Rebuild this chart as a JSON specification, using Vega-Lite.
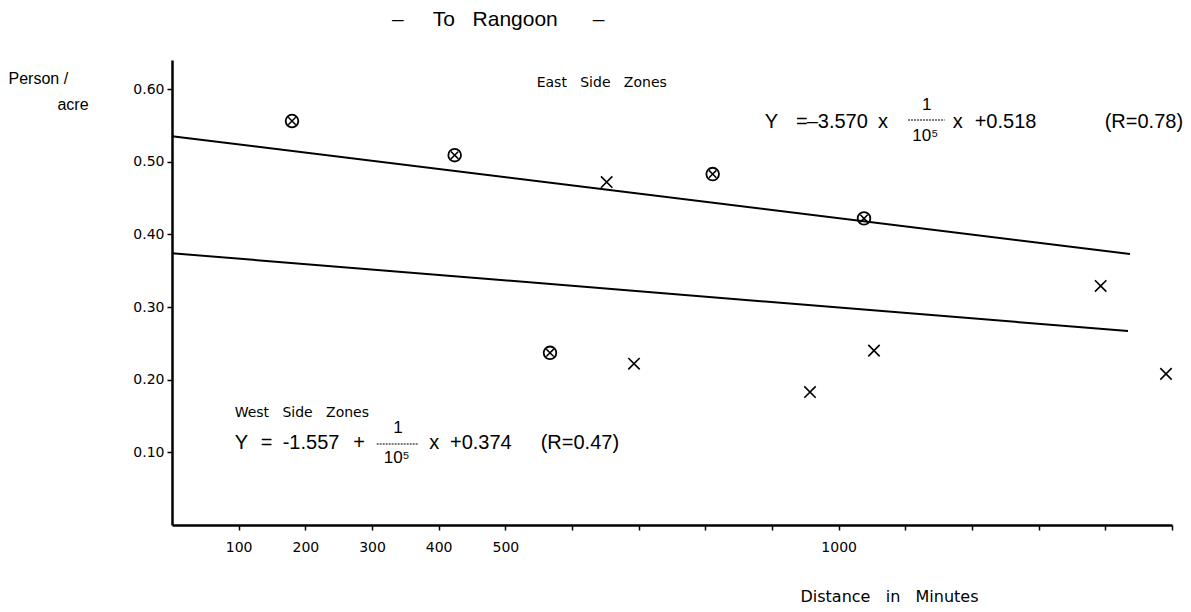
{
  "$schema": "https://vega.github.io/schema/vega-lite/v6.json",
  "width": 1000,
  "height": 465,
  "autosize": {"type": "none"},
  "padding": {"left": 172, "top": 60, "right": 19, "bottom": 87},
  "background": "white",
  "title": {"text": "–\u00a0\u00a0\u00a0\u00a0\u00a0To\u00a0\u00a0\u00a0Rangoon\u00a0\u00a0\u00a0\u00a0\u00a0\u00a0–", "anchor": "start", "dx": 384, "offset": 30, "fontSize": 21, "font": "Liberation Sans", "fontWeight": "normal", "color": "black"},
  "config": {
    "view": {"stroke": null},
    "axis": {"grid": false, "domainColor": "black", "tickColor": "black", "labelColor": "black", "titleColor": "black", "labelFont": "DejaVu Sans", "titleFont": "DejaVu Sans", "titleFontWeight": "normal"}
  },
  "datasets": {
    "points": [
      {"distance": 180, "density": 0.556, "marker": "circled"},
      {"distance": 424, "density": 0.509, "marker": "circled"},
      {"distance": 811, "density": 0.483, "marker": "circled"},
      {"distance": 1038, "density": 0.422, "marker": "circled"},
      {"distance": 567, "density": 0.237, "marker": "circled"},
      {"distance": 652, "density": 0.472, "marker": "cross"},
      {"distance": 693, "density": 0.222, "marker": "cross"},
      {"distance": 957, "density": 0.183, "marker": "cross"},
      {"distance": 1053, "density": 0.240, "marker": "cross"},
      {"distance": 1393, "density": 0.329, "marker": "cross"},
      {"distance": 1491, "density": 0.208, "marker": "cross"}
    ],
    "fits": [
      {"zone": "East", "distance": 0, "density": 0.535},
      {"zone": "East", "distance": 1437, "density": 0.373},
      {"zone": "West", "distance": 0, "density": 0.374},
      {"zone": "West", "distance": 1434, "density": 0.267}
    ],
    "equations": [
      {"text": "Y", "distance": 889, "density": 0.5547},
      {"text": "=", "distance": 936, "density": 0.5547},
      {"text": "–3.570", "distance": 952, "density": 0.5547},
      {"text": "x", "distance": 1059, "density": 0.5547},
      {"text": "x", "distance": 1171, "density": 0.5547},
      {"text": "+0.518", "distance": 1204, "density": 0.5547},
      {"text": "(R=0.78)", "distance": 1399, "density": 0.5547},
      {"text": "Y", "distance": 94, "density": 0.1129},
      {"text": "=", "distance": 133, "density": 0.1129},
      {"text": "-1.557", "distance": 166, "density": 0.1129},
      {"text": "+", "distance": 272, "density": 0.1129},
      {"text": "x", "distance": 386, "density": 0.1129},
      {"text": "+0.374", "distance": 417, "density": 0.1129},
      {"text": "(R=0.47)", "distance": 553, "density": 0.1129}
    ],
    "fractions": [
      {"text": "1", "distance": 1132, "density": 0.578},
      {"text": "10⁵", "distance": 1130, "density": 0.5354},
      {"text": "1", "distance": 339, "density": 0.1335},
      {"text": "10⁵", "distance": 337, "density": 0.0922}
    ],
    "bars": [
      {"distance": 1104, "distance2": 1159, "density": 0.5574},
      {"distance": 307, "distance2": 370, "density": 0.1115}
    ],
    "labels": [
      {"text": "East\u00a0\u00a0\u00a0Side\u00a0\u00a0\u00a0Zones", "distance": 547, "density": 0.608},
      {"text": "West\u00a0\u00a0\u00a0Side\u00a0\u00a0\u00a0Zones", "distance": 94, "density": 0.154}
    ]
  },
  "layer": [
    {
      "data": {"name": "fits"},
      "mark": {"type": "line", "color": "black", "strokeWidth": 2},
      "encoding": {
        "x": {"field": "distance", "type": "quantitative", "scale": {"domain": [0, 1500], "nice": false},
          "axis": {"values": [100, 200, 300, 400, 500, 600, 700, 800, 900, 1000, 1100, 1200, 1300, 1400, 1500],
            "labelExpr": "indexof([100,200,300,400,500,1000], datum.value) >= 0 ? datum.label : ''",
            "format": "d", "tickSize": 5, "tickWidth": 1.5, "domainWidth": 2.5, "labelPadding": 10, "labelFontSize": 14,
            "title": "Distance\u00a0\u00a0\u00a0in\u00a0\u00a0\u00a0Minutes", "titleFontSize": 16, "titleAlign": "center", "titleBaseline": "middle", "titleX": 717, "titleY": 71}},
        "y": {"field": "density", "type": "quantitative", "scale": {"domain": [0, 0.64], "nice": false, "zero": true},
          "axis": {"values": [0.1, 0.2, 0.3, 0.4, 0.5, 0.6], "format": ".2f", "tickSize": 5, "tickWidth": 1.5, "domainWidth": 2.5, "labelPadding": 3, "labelFontSize": 14,
            "title": ["Person\u00a0/", "\u200b\u00a0\u00a0\u00a0\u00a0\u00a0\u00a0\u00a0\u00a0\u00a0\u00a0\u00a0acre"], "titleAngle": 0, "titleAlign": "left", "titleBaseline": "top", "titleX": -164, "titleY": 10, "titleFont": "Liberation Sans", "titleFontSize": 16, "titleLineHeight": 26}},
        "detail": {"field": "zone"}
      }
    },
    {
      "data": {"name": "points"},
      "transform": [{"filter": "datum.marker === 'circled'"}],
      "mark": {"type": "point", "shape": "circle", "filled": false, "color": "black", "strokeWidth": 1.8, "size": 160, "opacity": 1},
      "encoding": {"x": {"field": "distance", "type": "quantitative"}, "y": {"field": "density", "type": "quantitative"}}
    },
    {
      "data": {"name": "points"},
      "transform": [{"filter": "datum.marker === 'circled'"}],
      "mark": {"type": "point", "shape": "M-1,-1L1,1M1,-1L-1,1", "filled": false, "color": "black", "strokeWidth": 1.5, "size": 55, "opacity": 1},
      "encoding": {"x": {"field": "distance", "type": "quantitative"}, "y": {"field": "density", "type": "quantitative"}}
    },
    {
      "data": {"name": "points"},
      "transform": [{"filter": "datum.marker === 'cross'"}],
      "mark": {"type": "point", "shape": "M-1,-1L1,1M1,-1L-1,1", "filled": false, "color": "black", "strokeWidth": 1.6, "size": 130, "opacity": 1},
      "encoding": {"x": {"field": "distance", "type": "quantitative"}, "y": {"field": "density", "type": "quantitative"}}
    },
    {
      "data": {"name": "equations"},
      "mark": {"type": "text", "align": "left", "baseline": "middle", "font": "Liberation Sans", "fontSize": 20, "color": "black"},
      "encoding": {"x": {"field": "distance", "type": "quantitative"}, "y": {"field": "density", "type": "quantitative"}, "text": {"field": "text"}}
    },
    {
      "data": {"name": "fractions"},
      "mark": {"type": "text", "align": "center", "baseline": "middle", "font": "Liberation Sans", "fontSize": 17, "color": "black"},
      "encoding": {"x": {"field": "distance", "type": "quantitative"}, "y": {"field": "density", "type": "quantitative"}, "text": {"field": "text"}}
    },
    {
      "data": {"name": "bars"},
      "mark": {"type": "rule", "color": "black", "strokeWidth": 1, "strokeDash": [2, 1]},
      "encoding": {"x": {"field": "distance", "type": "quantitative"}, "x2": {"field": "distance2"}, "y": {"field": "density", "type": "quantitative"}}
    },
    {
      "data": {"name": "labels"},
      "mark": {"type": "text", "align": "left", "baseline": "middle", "font": "DejaVu Sans", "fontSize": 14, "color": "black"},
      "encoding": {"x": {"field": "distance", "type": "quantitative"}, "y": {"field": "density", "type": "quantitative"}, "text": {"field": "text"}}
    }
  ]
}
